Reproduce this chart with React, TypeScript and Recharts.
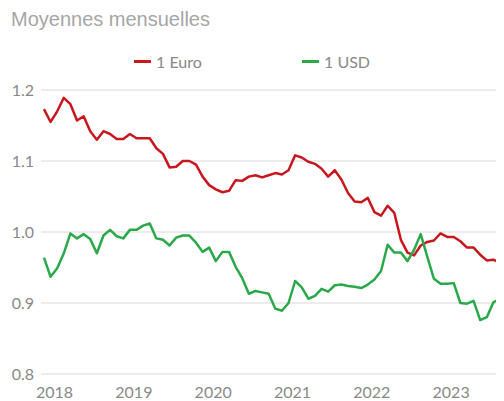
import React from "react";
import { LineChart, Line, XAxis, YAxis, CartesianGrid } from "recharts";

// Monthly averages, Jan 2018 .. Oct 2023 (value of 1 unit in CHF)
const eur = [
  1.173, 1.155, 1.17, 1.189, 1.18, 1.157, 1.163, 1.142, 1.13, 1.142, 1.138, 1.131,
  1.131, 1.138, 1.132, 1.132, 1.132, 1.118, 1.11, 1.091, 1.092, 1.1, 1.1, 1.095,
  1.078, 1.066, 1.06, 1.056, 1.058, 1.073, 1.072, 1.078, 1.08, 1.077, 1.08, 1.083,
  1.081, 1.087, 1.108, 1.105, 1.099, 1.096, 1.089, 1.078, 1.087, 1.074, 1.055, 1.043,
  1.042, 1.048, 1.028, 1.023, 1.037, 1.027, 0.989, 0.971, 0.967, 0.981, 0.986, 0.988,
  0.998, 0.993, 0.993, 0.987, 0.978, 0.978, 0.968, 0.96, 0.961, 0.957,
];
const usd = [
  0.964, 0.937, 0.949, 0.97, 0.998, 0.991, 0.997, 0.99, 0.97, 0.995, 1.003, 0.994,
  0.991, 1.003, 1.003, 1.009, 1.012, 0.991, 0.989, 0.981, 0.992, 0.995, 0.995, 0.985,
  0.972, 0.978, 0.959, 0.972, 0.972, 0.951, 0.935, 0.913, 0.917, 0.915, 0.913, 0.892,
  0.889, 0.9, 0.931, 0.922, 0.906, 0.91, 0.92, 0.916, 0.925, 0.926, 0.924, 0.923,
  0.921, 0.926, 0.933, 0.945, 0.982, 0.971, 0.971, 0.959, 0.975, 0.997, 0.965, 0.934,
  0.927, 0.927, 0.928, 0.9, 0.899, 0.903, 0.876, 0.88, 0.901, 0.906,
];
const yearLabels = ["2018", "2019", "2020", "2021", "2022", "2023"];
const yearTickPos = [1.6, 13.6, 25.6, 37.6, 49.6, 61.6];
const yTicks = [0.8, 0.9, 1.0, 1.1, 1.2];
const seriesNames = ["1 Euro", "1 USD"];
const seriesColors = ["#c8171f", "#2aa84a"];

const data = eur.map((v, i) => ({ i, eur: v, usd: usd[i] }));

const FONT = "Lato, 'Open Sans', sans-serif";
const TICK = "#898989";

export default function App() {
  return (
    <div style={{ position: "relative", width: 496, height: 393 }}>
      <div
        style={{
          position: "absolute",
          left: 3,
          top: 0,
          fontFamily: "'Liberation Sans', Arial, sans-serif",
          fontSize: 20,
          lineHeight: "23px",
          color: "#a6a6a6",
          whiteSpace: "nowrap",
        }}
      >
        Moyennes mensuelles
      </div>
      {seriesNames.map((name, k) => (
        <div
          key={name}
          style={{
            position: "absolute",
            left: k === 0 ? 126 : 294,
            top: 43,
            height: 20,
            display: "flex",
            alignItems: "center",
            fontFamily: FONT,
            fontSize: 16,
            color: TICK,
            whiteSpace: "nowrap",
          }}
        >
          <span
            style={{
              display: "inline-block",
              width: 17,
              height: 3,
              background: seriesColors[k],
              marginRight: 5,
            }}
          />
          {name}
        </div>
      ))}
      <LineChart
        width={496}
        height={393}
        data={data}
        margin={{ top: 82, right: 1, bottom: 0, left: 0 }}
      >
        <CartesianGrid vertical={false} stroke="#d9d9d9" strokeWidth={1} />
        <XAxis
          dataKey="i"
          type="number"
          domain={[-0.45, 69.45]}
          ticks={yearTickPos}
          tickFormatter={(v: number) => yearLabels[yearTickPos.indexOf(v)] ?? ""}
          axisLine={false}
          tickLine={false}
          tickSize={0}
          tickMargin={13}
          height={27}
          interval={0}
          tick={{ fill: TICK, fontSize: 16, fontFamily: FONT }}
        />
        <YAxis
          domain={[0.8, 1.2]}
          ticks={yTicks}
          tickFormatter={(v: number) => v.toFixed(1)}
          axisLine={false}
          tickLine={false}
          tickSize={0}
          tickMargin={7}
          width={33}
          interval={0}
          tick={{ fill: TICK, fontSize: 16, fontFamily: FONT }}
        />
        <Line
          type="linear"
          dataKey="eur"
          stroke={seriesColors[0]}
          strokeWidth={2.5}
          dot={false}
          isAnimationActive={false}
          strokeLinejoin="round"
        />
        <Line
          type="linear"
          dataKey="usd"
          stroke={seriesColors[1]}
          strokeWidth={2.5}
          dot={false}
          isAnimationActive={false}
          strokeLinejoin="round"
        />
      </LineChart>
    </div>
  );
}
